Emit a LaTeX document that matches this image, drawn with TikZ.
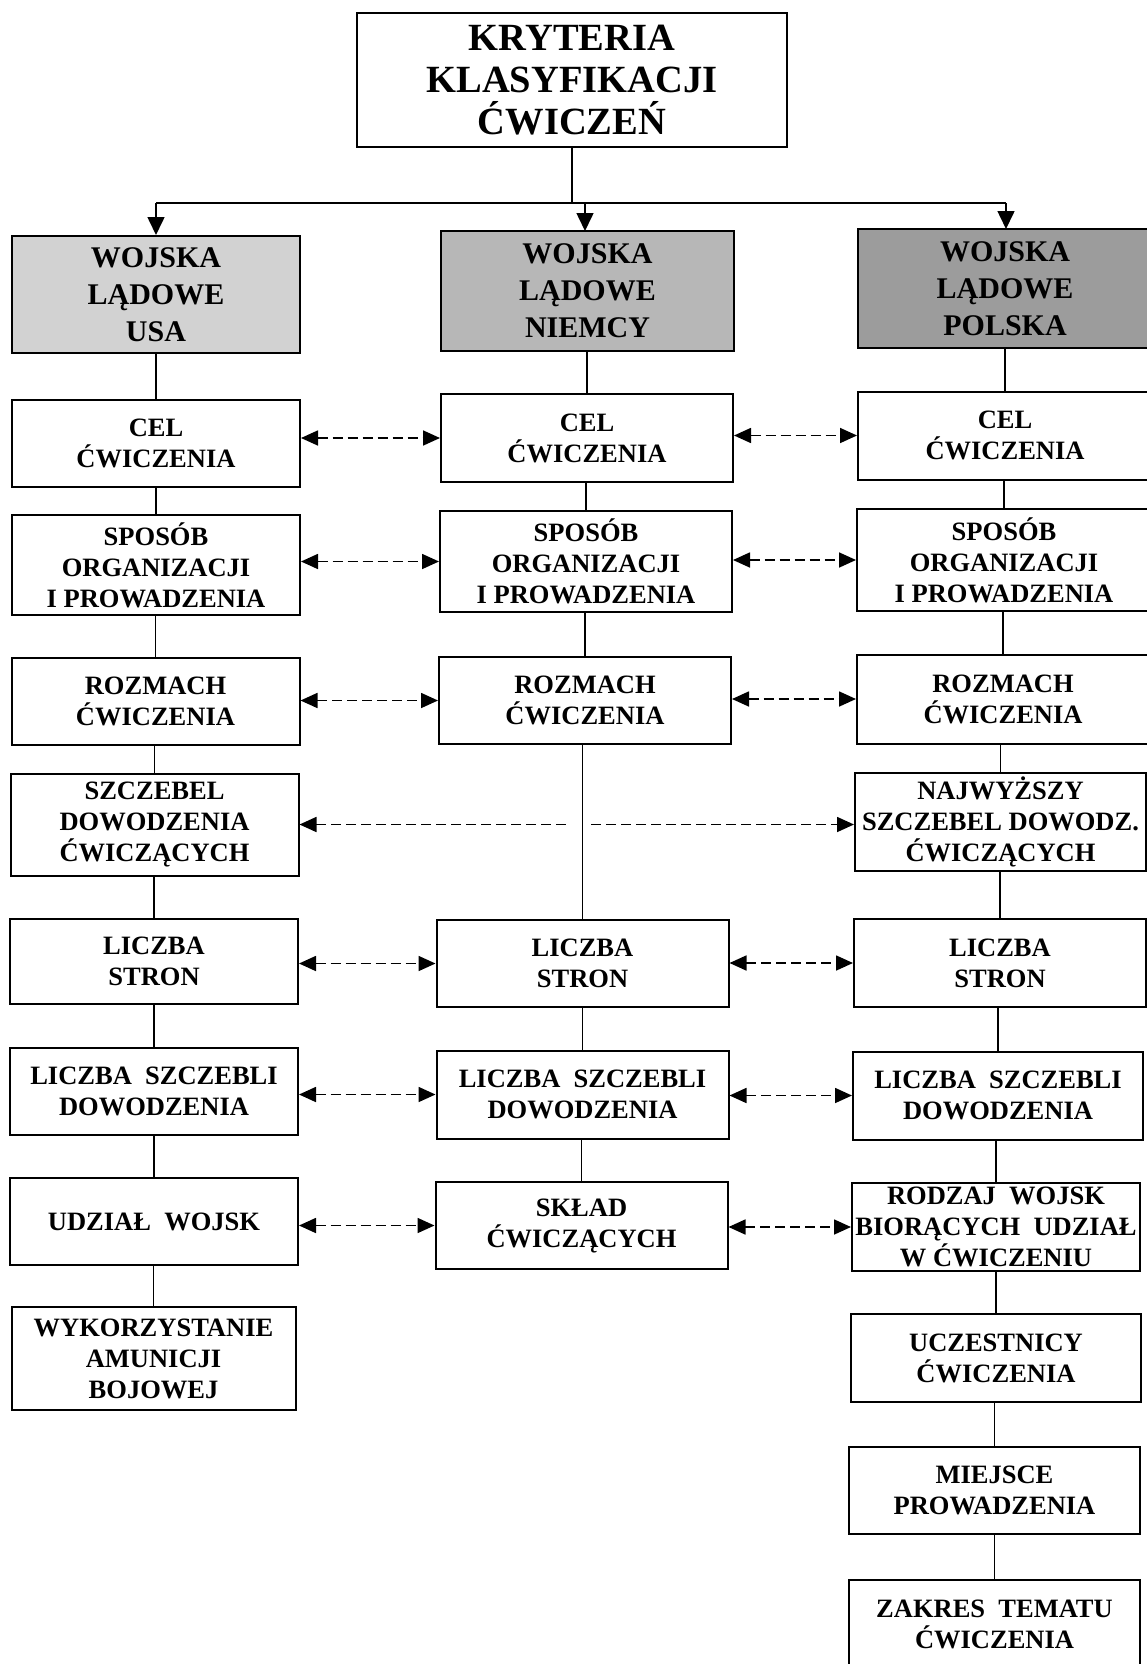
\documentclass[tikz,border=0pt]{standalone}
\usepackage{fontspec}
\setmainfont{Liberation Serif}
\usetikzlibrary{arrows.meta}

\newcommand\topfnt{\fontsize{38.5}{42}\selectfont\bfseries}
\newcommand\headfnt{\fontsize{30}{37}\selectfont\bfseries}
\newcommand\bodyfnt{\fontsize{26.5}{31}\selectfont\bfseries}

\definecolor{usagray}{HTML}{D2D2D2}
\definecolor{gergray}{HTML}{B7B7B7}
\definecolor{polgray}{HTML}{9C9C9C}

\tikzset{
  box/.style={draw, line width=2pt, fill=white, align=center, inner sep=0pt, font=\bodyfnt},
  headbox/.style={box, font=\headfnt},
  conn/.style={line width=1.6pt},
  down/.style={conn, -{Triangle[length=18pt,width=17pt]}},
  tip/.style={Triangle[length=17pt,width=15pt]},
  pair/.style={line width=1.7pt, dash pattern=on 10pt off 5pt, {Triangle[length=17pt,width=15pt]}-{Triangle[length=17pt,width=15pt]}},
  toleft/.style={line width=1.7pt, dash pattern=on 10pt off 5pt, {Triangle[length=17pt,width=15pt]}-},
  toright/.style={line width=1.7pt, dash pattern=on 10pt off 5pt, -{Triangle[length=17pt,width=15pt]}},
  wl/.style={minimum width=288pt},
  wm/.style={minimum width=292pt},
}

\begin{document}
\begin{tikzpicture}[x=1pt, y=-1pt]
\path[use as bounding box, fill=white] (0,0) rectangle (1147,1664);
\clip (0,0) rectangle (1147,1664);

% root
\node[box, font=\topfnt, minimum width=430pt, minimum height=134pt] (root) at (572,80)
  {KRYTERIA\\KLASYFIKACJI\\ĆWICZEŃ};

% armies
\node[headbox, fill=usagray, minimum width=288pt, minimum height=117pt] (hU) at (156,294.5)
  {WOJSKA\\LĄDOWE\\USA};
\node[headbox, fill=gergray, minimum width=293pt, minimum height=120pt] (hN) at (587.5,291)
  {WOJSKA\\LĄDOWE\\NIEMCY};
\node[headbox, fill=polgray, minimum width=294pt, minimum height=119pt] (hP) at (1005,288.5)
  {WOJSKA\\LĄDOWE\\POLSKA};

% distribution bus
\coordinate (bus) at (572,203);
\draw[conn] (root.south) -- (bus);
\draw[conn] (hU.north |- bus) -- (1006,203);
\draw[down] (hU.north |- bus) -- (hU.north);
\draw[down] (585,203) -- (585,231);
\draw[down] (1006,203) -- (1006,229);

% USA column
\node[box, wl, minimum height=87pt]  (l1) at (156,443.5) {CEL\\ĆWICZENIA};
\node[box, wl, minimum height=100pt] (l2) at (156,565) {SPOSÓB\\ORGANIZACJI\\I PROWADZENIA};
\node[box, wl, minimum height=87pt]  (l3) at (155.5,701.5) {ROZMACH\\ĆWICZENIA};
\node[box, wl, minimum height=102pt] (l4) at (154.5,824.5) {SZCZEBEL\\DOWODZENIA\\ĆWICZĄCYCH};
\node[box, wl, minimum height=85pt]  (l5) at (154,961.5) {LICZBA\\STRON};
\node[box, wl, minimum height=87pt]  (l6) at (154,1091.5) {LICZBA\ \ SZCZEBLI\\DOWODZENIA};
\node[box, wl, minimum height=87pt]  (l7) at (154,1221.5) {UDZIAŁ\ \ WOJSK};
\node[box, minimum width=284pt, minimum height=103pt] (l8) at (153.5,1358.5)
  {WYKORZYSTANIE\\AMUNICJI\\BOJOWEJ};

% Germany column
\node[box, wm, minimum height=88pt]  (m1) at (587,438) {CEL\\ĆWICZENIA};
\node[box, wm, minimum height=101pt] (m2) at (586,561.5) {SPOSÓB\\ORGANIZACJI\\I PROWADZENIA};
\node[box, wm, minimum height=87pt]  (m3) at (585,700.5) {ROZMACH\\ĆWICZENIA};
\node[box, wm, minimum height=87pt]  (m5) at (582.5,963.5) {LICZBA\\STRON};
\node[box, wm, minimum height=88pt]  (m6) at (582.5,1094.5) {LICZBA\ \ SZCZEBLI\\DOWODZENIA};
\node[box, wm, minimum height=87pt]  (m7) at (581.5,1225.5) {SKŁAD\\ĆWICZĄCYCH};

% Poland column
\node[box, minimum width=294pt, minimum height=88pt]  (r1) at (1005,435.5) {CEL\\ĆWICZENIA};
\node[box, minimum width=294pt, minimum height=102pt] (r2) at (1004,560) {SPOSÓB\\ORGANIZACJI\\I PROWADZENIA};
\node[box, minimum width=292pt, minimum height=89pt]  (r3) at (1003,699) {ROZMACH\\ĆWICZENIA};
\node[box, minimum width=291pt, minimum height=98pt]  (r4) at (1000.5,822) {NAJWYŻSZY\\SZCZEBEL DOWODZ.\\ĆWICZĄCYCH};
\node[box, minimum width=292pt, minimum height=88pt]  (r5) at (1000,963) {LICZBA\\STRON};
\node[box, minimum width=290pt, minimum height=88pt]  (r6) at (998,1095.5) {LICZBA\ \ SZCZEBLI\\DOWODZENIA};
\node[box, minimum width=288pt, minimum height=88pt]  (r7) at (996,1227) {RODZAJ\ \ WOJSK\\BIORĄCYCH\ \ UDZIAŁ\\W ĆWICZENIU};
\node[box, minimum width=290pt, minimum height=88pt]  (r8) at (996,1358) {UCZESTNICY\\ĆWICZENIA};
\node[box, minimum width=291pt, minimum height=87pt]  (r9) at (994.5,1490.5) {MIEJSCE\\PROWADZENIA};
\node[box, minimum width=291pt, minimum height=88pt]  (r10) at (994.5,1624) {ZAKRES\ \ TEMATU\\ĆWICZENIA};

% vertical chains
\foreach \a/\b in {hU/l1,l1/l2,l2/l3,l3/l4,l4/l5,l5/l6,l6/l7,l7/l8,
                   hN/m1,m1/m2,m2/m3,m3/m5,m5/m6,m6/m7,
                   hP/r1,r1/r2,r2/r3,r3/r4,r4/r5,r5/r6,r6/r7,r7/r8,r8/r9,r9/r10}
  \draw[conn] (\b.north) -- (\b.north |- \a.south);

% correspondences between the armies
\foreach \a/\b in {l1/m1,l2/m2,l3/m3,l5/m5,l6/m6,l7/m7,
                   m1/r1,m2/r2,m3/r3,m5/r5,m6/r6,m7/r7}
  \draw[pair] (\a.east |- \b.west) -- (\b.west);

\coordinate (gapL) at (566,0);
\coordinate (gapR) at (591,0);
\draw[toleft]  (l4.east) -- (l4.east -| gapL);
\draw[toright] (gapR |- l4.east) -- (r4.west |- l4.east);
\end{tikzpicture}
\end{document}
